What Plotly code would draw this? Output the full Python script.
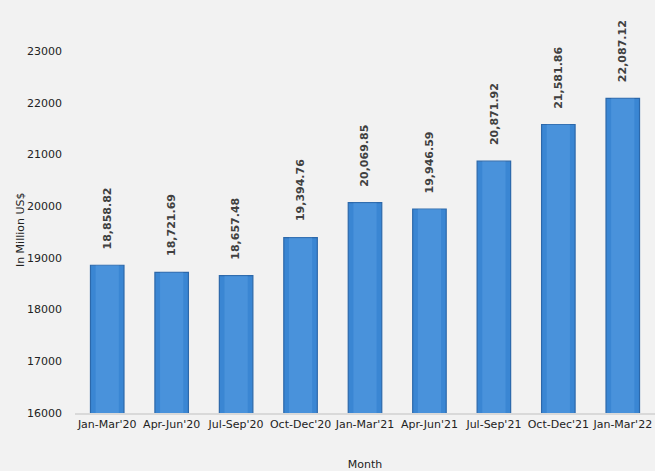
import plotly.graph_objects as go

categories = ["Jan-Mar'20", "Apr-Jun'20", "Jul-Sep'20", "Oct-Dec'20", "Jan-Mar'21",
              "Apr-Jun'21", "Jul-Sep'21", "Oct-Dec'21", "Jan-Mar'22"]
values = [18858.82, 18721.69, 18657.48, 19394.76, 20069.85, 19946.59, 20871.92, 21581.86, 22087.12]
y_ticks = [16000, 17000, 18000, 19000, 20000, 21000, 22000, 23000]

font_family = "DejaVu Sans, Verdana, sans-serif"

fig = go.Figure()
fig.add_trace(go.Bar(
    x=categories, y=values,
    marker=dict(color="#3a86d3", line=dict(color="#2c68aa", width=1.2)),
    width=0.52,
    hoverinfo="x+y",
))
# soft highlight overlay to suggest the bevelled face
fig.add_trace(go.Bar(
    x=categories, y=values,
    marker=dict(color="rgba(110,175,240,0.30)", line=dict(width=0)),
    width=0.36,
    hoverinfo="skip",
))

for c, v in zip(categories, values):
    fig.add_annotation(
        x=c, y=v, text=f"{v:,.2f}", textangle=-90,
        showarrow=False, yanchor="bottom", yshift=14,
        font=dict(family=font_family, size=11, color="#404040", weight="bold"),
    )

fig.add_annotation(
    x=-0.095, xref="paper", y=0.445, yref="paper", text="In Million US$",
    textangle=-90, showarrow=False, xanchor="center", yanchor="middle",
    font=dict(family=font_family, size=11, color="#222222"),
)

fig.update_layout(
    width=655, height=471,
    paper_bgcolor="#f2f2f2", plot_bgcolor="#f2f2f2",
    margin=dict(l=75, r=0, t=0, b=58, autoexpand=False),
    barmode="overlay",
    showlegend=False,
    font=dict(family=font_family, size=11, color="#222222"),
    xaxis=dict(
        title=dict(text="Month", font=dict(size=11), standoff=30),
        showline=True, linecolor="#d9d9d9", linewidth=2,
        ticks="", tickfont=dict(size=11), tickangle=0, automargin=False,
    ),
    yaxis=dict(
        range=[16000, 23990], tickvals=y_ticks, ticktext=[str(t) for t in y_ticks],
        showgrid=False, zeroline=False, showline=False, automargin=False,
        ticklabelstandoff=12, tickfont=dict(size=11),
    ),
)

fig.write_html("out.html")
